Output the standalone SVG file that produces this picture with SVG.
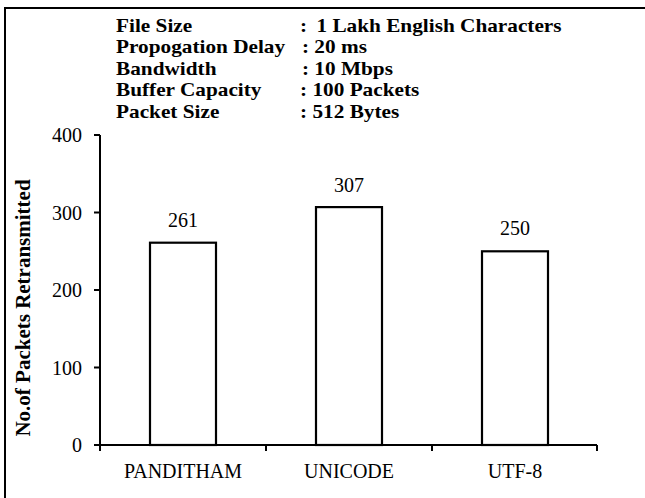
<svg xmlns="http://www.w3.org/2000/svg" width="645" height="498" viewBox="0 0 645 498">
<style>
.t{font-family:"Liberation Serif","Times New Roman",serif;font-size:20px;fill:#000}
.b{font-family:"Liberation Serif","Times New Roman",serif;font-weight:bold;fill:#000}
.ax{stroke:#000;stroke-width:2;fill:none}
.bar{stroke:#000;stroke-width:2.2;fill:#fff}
</style>
<rect width="645" height="498" fill="#fff"/>
<g id="frame"><path d="M5,498 V8 H645" class="ax" stroke-width="1.8"/></g>
<g id="legend" class="b" font-size="18.5">
<g transform="scale(1.15,1)">
<text x="100.9" y="32">File Size</text>
<text x="260.9" y="32">:</text>
<text x="275.2" y="32">1 Lakh English Characters</text>
<text x="100.9" y="53.5">Propogation Delay</text>
<text x="262.6" y="53.5">: 20 ms</text>
<text x="100.9" y="75">Bandwidth</text>
<text x="262.6" y="75">: 10 Mbps</text>
<text x="100.9" y="96.5">Buffer Capacity</text>
<text x="260.9" y="96.5">: 100 Packets</text>
<text x="100.9" y="118">Packet Size</text>
<text x="260.9" y="118">: 512 Bytes</text>
</g>
</g>
<g id="connectors">
<path class="ax" d="M100,135 V445 H597"/>
<path class="ax" d="M94,135 H100 M94,212.5 H100 M94,290 H100 M94,367.5 H100 M94,445 H100"/>
<path class="ax" d="M100,445 V451 M266,445 V451 M432,445 V451 M597,445 V451"/>
</g>
<g id="yticks" class="t" text-anchor="end">
<text x="82" y="142">400</text>
<text x="82" y="219.5">300</text>
<text x="82" y="297">200</text>
<text x="82" y="374.5">100</text>
<text x="82" y="452">0</text>
</g>
<g id="ylabel"><text class="b" font-size="21" text-anchor="middle" transform="translate(30,308) rotate(-90)">No.of Packets Retransmitted</text></g>
<g id="bar-panditham">
<rect class="bar" x="150" y="242.7" width="66" height="202.3"/>
<text class="t" x="183" y="227" text-anchor="middle">261</text>
<text class="t" x="183" y="478" text-anchor="middle">PANDITHAM</text>
</g>
<g id="bar-unicode">
<rect class="bar" x="316" y="207.1" width="66" height="237.9"/>
<text class="t" x="349" y="191.5" text-anchor="middle">307</text>
<text class="t" x="349" y="478" text-anchor="middle">UNICODE</text>
</g>
<g id="bar-utf8">
<rect class="bar" x="482" y="251.3" width="66" height="193.7"/>
<text class="t" x="515" y="235" text-anchor="middle">250</text>
<text class="t" x="515" y="478" text-anchor="middle">UTF-8</text>
</g>
</svg>
